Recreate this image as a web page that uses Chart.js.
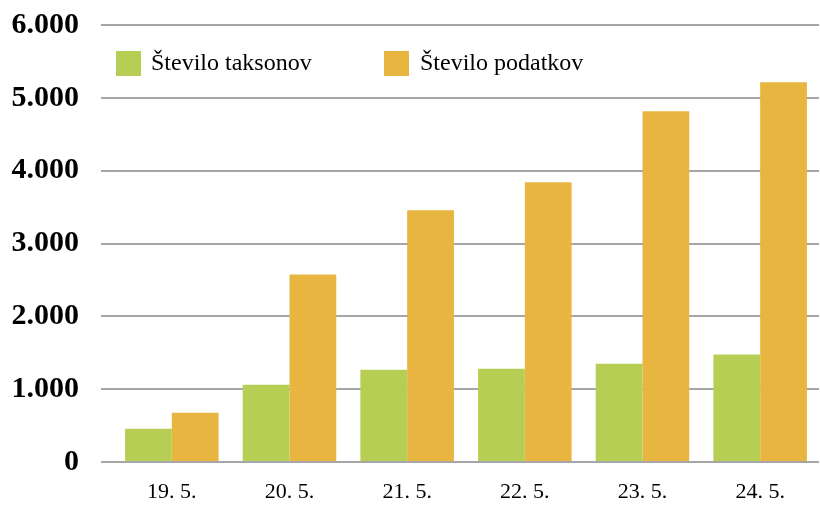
<!DOCTYPE html>
<html>
<head>
<meta charset="utf-8">
<script src="https://cdn.jsdelivr.net/npm/chart.js@4"></script>
<style>
  body { margin: 0; background: #fff; }
  #wrap { width: 820px; height: 505px; position: relative; }
</style>
</head>
<body>
<div id="wrap"><canvas id="taxaChart"></canvas></div>
<script>
const dayLabels = ['19. 5.', '20. 5.', '21. 5.', '22. 5.', '23. 5.', '24. 5.'];
const taxaCounts = [455, 1060, 1265, 1280, 1350, 1475];
const recordCounts = [675, 2575, 3455, 3840, 4815, 5215];
const seriesNames = ['Število taksonov', 'Število podatkov'];
const seriesColors = ['#b7ce54', '#e8b541'];

const gridColor = '#a6a6a6';

// legend sits inside the plot area, drawn by hand
const insideLegend = {
    id: 'insideLegend',
    afterDraw(chart) {
        const ctx = chart.ctx;
        const spots = [{ box: 116, text: 151 }, { box: 384, text: 420 }];
        ctx.save();
        ctx.font = '24px "Liberation Serif"';
        ctx.textBaseline = 'middle';
        chart.data.datasets.forEach((ds, i) => {
            ctx.fillStyle = ds.backgroundColor;
            ctx.fillRect(spots[i].box, 51, 25, 25);
            ctx.fillStyle = '#000';
            ctx.fillText(ds.label, spots[i].text, 64);
        });
        ctx.restore();
    }
};

const ctx = document.getElementById('taxaChart').getContext('2d');
const taxaChart = new Chart(ctx, {
    type: 'bar',
    data: {
        labels: dayLabels,
        datasets: [{
            label: seriesNames[0],
            data: taxaCounts,
            backgroundColor: seriesColors[0]
        }, {
            label: seriesNames[1],
            data: recordCounts,
            backgroundColor: seriesColors[1]
        }]
    },
    options: {
        responsive: true,
        maintainAspectRatio: false,
        animation: false,
        layout: { padding: { top: 25, right: 1, left: 0, bottom: 0 } },
        plugins: {
            legend: { display: false },
            tooltip: { enabled: false }
        },
        datasets: {
            bar: { categoryPercentage: 0.795, barPercentage: 1.0 }
        },
        scales: {
            x: {
                grid: { display: false },
                border: { display: false },
                ticks: {
                    color: '#000',
                    padding: 9,
                    font: { family: '"Liberation Serif"', size: 22 }
                },
                afterFit(scale) { scale.height = 43; }
            },
            y: {
                min: 0,
                max: 6000,
                border: { display: false },
                grid: {
                    color: gridColor,
                    lineWidth: 2,
                    drawTicks: true,
                    tickLength: 12,
                    tickColor: gridColor
                },
                ticks: {
                    stepSize: 1000,
                    color: '#000',
                    padding: 22,
                    font: { family: '"Liberation Serif"', size: 30, weight: 'bold', lineHeight: 1.0 },
                    callback: v => v === 0 ? '0' : String(v).replace(/\B(?=(\d{3})+(?!\d))/g, '.')
                },
                afterFit(scale) {
                    scale.width = 113;
                    scale.paddingTop = 0;
                    scale.paddingBottom = 0;
                }
            }
        }
    },
    plugins: [insideLegend]
});
</script>
</body>
</html>
